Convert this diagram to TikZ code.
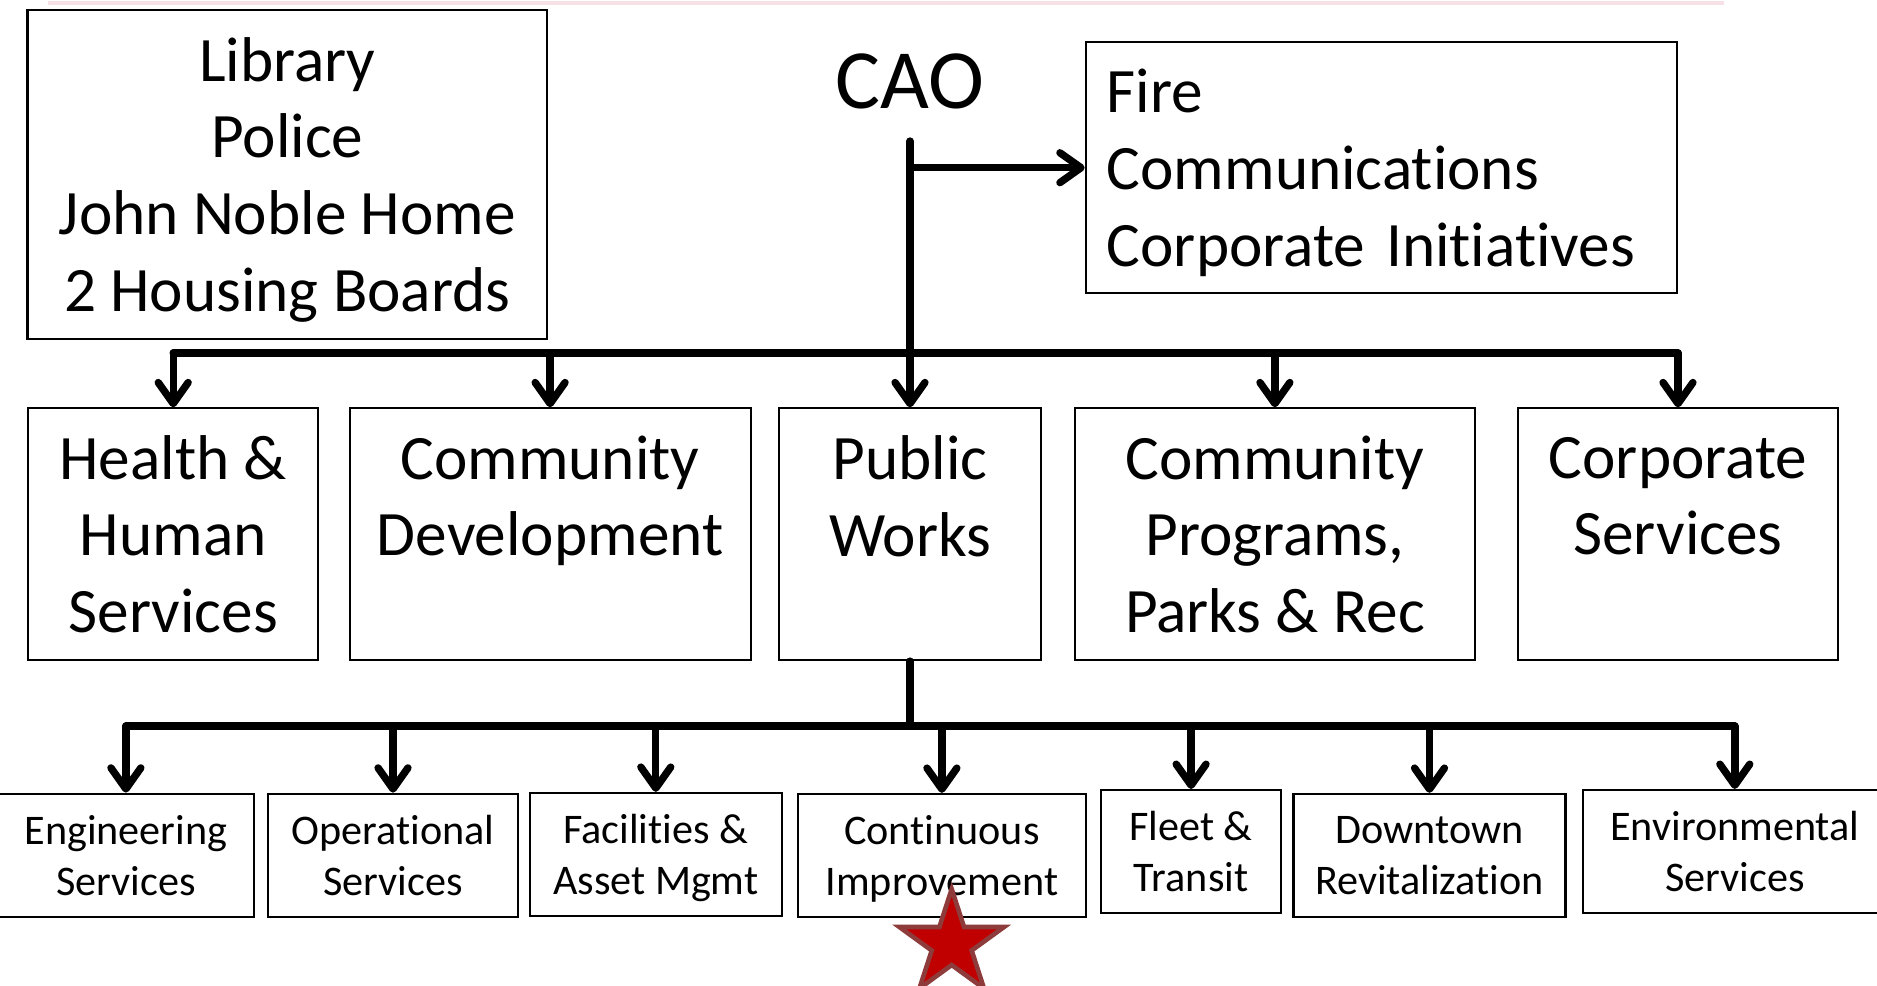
\documentclass[tikz,border=0pt]{standalone}
\usepackage{fontspec}
\setmainfont{Carlito}[Ligatures=CommonOff]
\usetikzlibrary{arrows.meta,positioning,calc}
\definecolor{starred}{HTML}{C00000}
\definecolor{starrim}{HTML}{8E3B3B}
\definecolor{rulepink}{HTML}{F8E1E6}

% last line of a box: keep descenders out of the vertical centring
\newcommand{\nodrop}[1]{\raisebox{0pt}[\height][0pt]{#1}}

\tikzset{
  orgbox/.style={draw=black, line width=0.6pt, inner sep=0pt, align=center},
  bigtext/.style={font=\fontsize{18pt}{21.8pt}\selectfont},
  smalltext/.style={font=\fontsize{12pt}{14.5pt}\selectfont},
  deptbox/.style={orgbox, bigtext, minimum height=25.17mm},
  divbox/.style={orgbox, smalltext, minimum height=12.3mm},
  link/.style={line width=2.1pt, line join=round, line cap=round},
  feed/.style={link, -{Straight Barb[length=6pt,width=8.5pt,round]}}
}

\begin{document}
\begin{tikzpicture}[x=0.1mm,y=-0.1mm]
\useasboundingbox (0,0) rectangle (1877,985);
\draw[rulepink, line width=1pt] (48,3) -- (1724,3);

% CAO and the offices reporting straight to it
\node[font=\fontsize{24pt}{28pt}\selectfont] (cao) at (910,81) {CAO};
\node[orgbox, bigtext, minimum width=51.95mm, minimum height=32.95mm] (boards) at (287.3,174.3)
  {Library\\Police\\John Noble Home\\\nodrop{2 Housing Boards}};
\node[orgbox, bigtext, align=left, text width=54.9mm, minimum width=59.13mm, minimum height=25.13mm] (fire) at (1381.4,167.7)
  {Fire\\Communications\\\nodrop{Corporate Initiatives}};

% departments
\node[deptbox, minimum width=29.03mm] (hhs) at (173.2,534.2) {Health \&\\Human\\Services};
\node[deptbox, minimum width=40.11mm] (cd) at (550.1,534.2) {Community\\Development\\~};
\node[deptbox, minimum width=26.14mm] (pw) at (910,534.2) {Public\\Works\\~};
\node[deptbox, minimum width=40.03mm] (cppr) at (1274.9,534.2) {Community\\Programs,\\Parks \& Rec};
\node[deptbox, minimum width=32.04mm] (corp) at (1678,534.2) {Corporate\\Services\\~};

% public works divisions
\node[divbox, minimum width=25.58mm] (eng) at (125.9,855.2) {Engineering\\Services};
\node[divbox, minimum width=25.0mm] (ops) at (393,855.2) {Operational\\Services};
\node[divbox, minimum width=25.22mm] (fam) at (655.8,854.4) {Facilities \&\\\nodrop{Asset Mgmt}};
\node[divbox, minimum width=28.83mm] (ci) at (941.9,855.4) {Continuous\\\nodrop{Improvement}};
\node[divbox, minimum width=17.94mm] (fleet) at (1191.1,851.5) {Fleet \&\\Transit};
\node[divbox, minimum width=27.2mm] (dtr) at (1429.5,855.4) {Downtown\\Revitalization};
\node[divbox, minimum width=30.45mm] (env) at (1734.8,851.5) {Environmental\\Services};

% star under Continuous Improvement
\coordinate (mark) at (951.7,944);
\filldraw[fill=starred, draw=starrim, line width=1.3pt, line join=miter]
  ($(mark)+(90:5.5mm)$)
  \foreach \a/\r in {126/2.1,162/5.5,198/2.1,234/5.5,270/2.1,306/5.5,342/2.1,18/5.5,54/2.1}
    { -- ($(mark)+(\a:\r mm)$) } -- cycle;

% connectors
\coordinate (stem) at ([yshift=-2mm]cao.south);
\coordinate (topbus) at (0,353);
\coordinate (lowbus) at (0,726);

\draw[feed] (stem) -- (stem |- pw.north);
\draw[feed] (stem |- fire.west) -- (fire.west);
\draw[link] (hhs.north |- topbus) -- (corp.north |- topbus);
\foreach \d in {hhs,cd,cppr,corp}
  \draw[feed] (\d.north |- topbus) -- (\d.north);

\draw[link] (pw.south) -- (pw.south |- lowbus);
\draw[link] (eng.north |- lowbus) -- (env.north |- lowbus);
\foreach \d in {eng,ops,fam,ci,fleet,dtr,env}
  \draw[feed] (\d.north |- lowbus) -- (\d.north);
\end{tikzpicture}
\end{document}
